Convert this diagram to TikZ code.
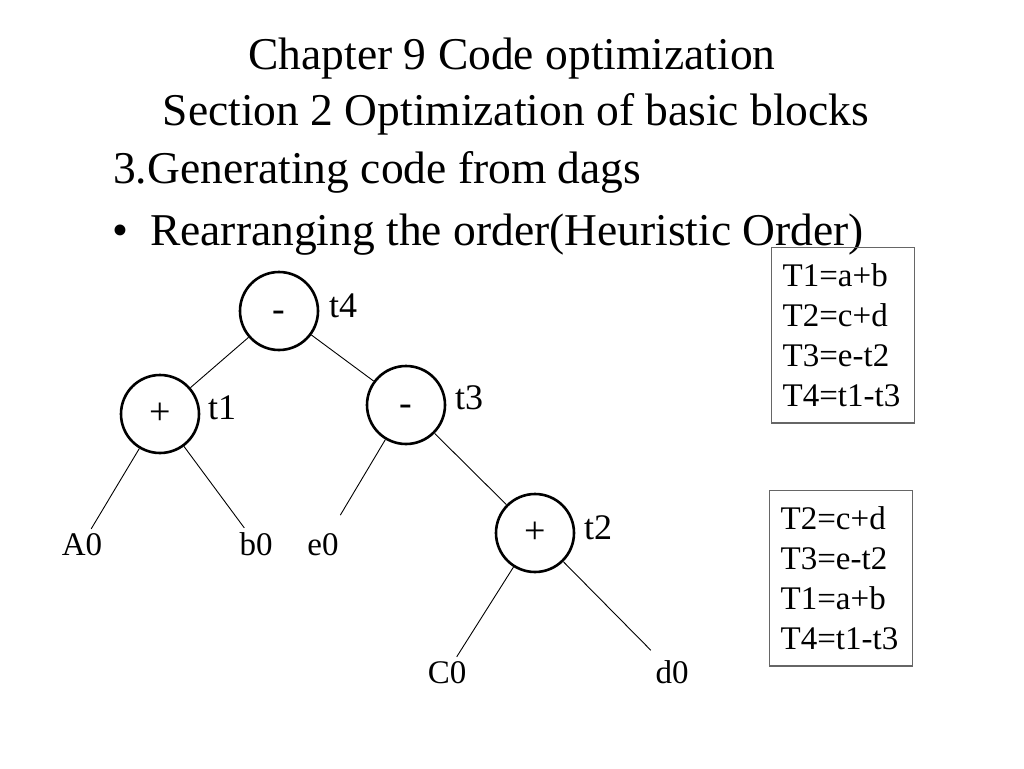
\documentclass[tikz,border=0pt]{standalone}
\usepackage{fontspec}
\setmainfont{Liberation Serif}

\begin{document}
\begin{tikzpicture}[x=1pt,y=-1pt]

\tikzset{op/.style = {shape=circle,draw,line width=2.6pt,minimum size=78pt,inner sep=0pt,text height=20pt,text depth=0pt,font=\fontsize{38}{40}\selectfont}}
\tikzset{leaf/.style = {inner sep=4pt,font=\fontsize{33}{40}\selectfont}}
\tikzset{tag/.style = {anchor=base,inner sep=0pt,font=\fontsize{36}{40}\selectfont}}
\tikzset{edge/.style = {line width=0.9pt}}
\tikzset{codebox/.style = {draw=black!60,line width=1.4pt,anchor=north west,align=left,text width=121pt,inner xsep=11pt,inner ysep=16pt,font=\fontsize{33}{40}\selectfont}}
\tikzset{heading/.style = {anchor=base,inner sep=0pt,font=\fontsize{45.5}{50}\selectfont}}

\useasboundingbox (0,0) rectangle (1024,768);

%title
\node[heading] (title1) at (512,70) {Chapter 9 Code optimization};
\node[heading] (title2) at (516,125) {Section 2 Optimization of basic blocks};
\node[heading, anchor=base west] (point) at (113,183) {3.Generating code from dags};
\node[heading] (dot) at (120,245) {\textbullet};
\node[heading, anchor=base west] (bullet) at (150,245) {Rearranging the order(Heuristic Order)};

%verticies
\node[op] (t4) at (279,311) {-};
\node[op] (t1) at (160,414) {+};
\node[op] (t3) at (406,405) {-};
\node[op] (t2) at (535,533) {+};
\node[tag] (l4) at (343,317) {t4};
\node[tag] (l1) at (222,419) {t1};
\node[tag] (l3) at (469,409) {t3};
\node[tag] (l2) at (598,539) {t2};
\node[leaf, anchor=base] (A0) at (82,555) {A0};
\node[leaf, anchor=base] (b0) at (256,555) {b0};
\node[leaf, anchor=base] (e0) at (323,555) {e0};
\node[leaf, anchor=base] (C0) at (447,683) {C0};
\node[leaf, anchor=base] (d0) at (672,683) {d0};

%edges
\draw[edge] (t4) -- (t1);
\draw[edge] (t4) -- (t3);
\draw[edge] (t1) -- (A0);
\draw[edge] (t1) -- (b0);
\draw[edge, shorten >=16pt] (t3) -- (e0);
\draw[edge] (t3) -- (t2);
\draw[edge] (t2) -- (C0);
\draw[edge, shorten >=8pt] (t2) -- (d0);

%code
\node[codebox] (order1) at (771,247) {T1=a+b\\T2=c+d\\T3=e-t2\\T4=t1-t3};
\node[codebox] (order2) at (769,490) {T2=c+d\\T3=e-t2\\T1=a+b\\T4=t1-t3};

\end{tikzpicture}
\end{document}
